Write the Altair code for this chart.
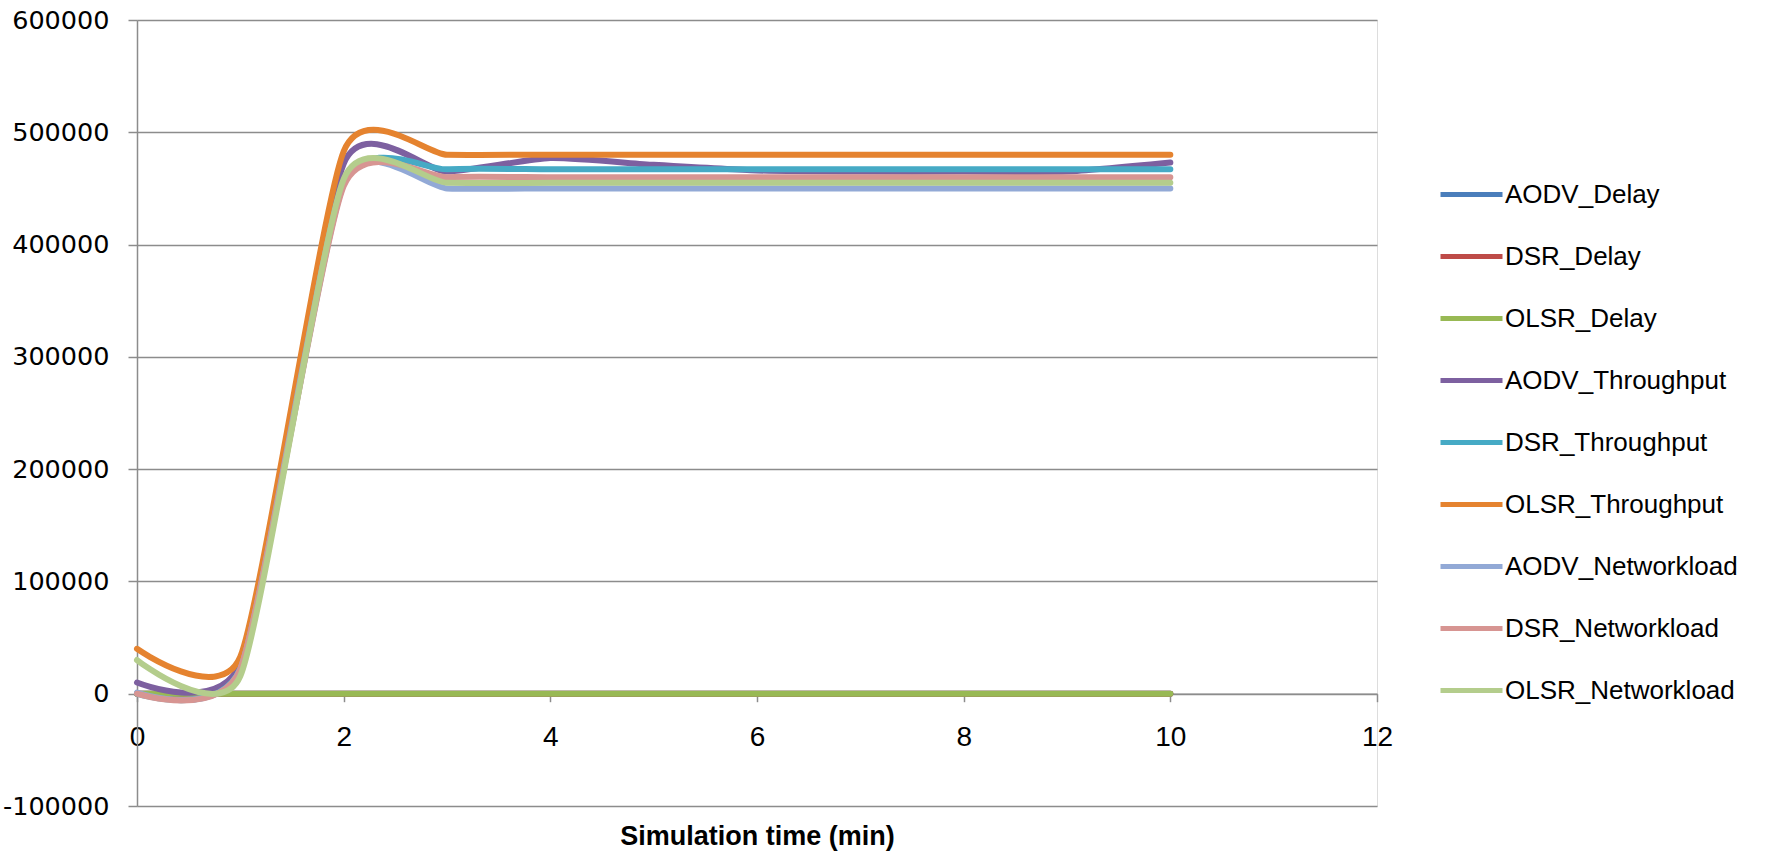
import altair as alt
import pandas as pd

# ---- data ----
times = [0, 1, 2, 3, 4, 5, 6, 7, 8, 9, 10]

series_names = [
    "AODV_Delay", "DSR_Delay", "OLSR_Delay",
    "AODV_Throughput", "DSR_Throughput", "OLSR_Throughput",
    "AODV_Networkload", "DSR_Networkload", "OLSR_Networkload",
]

aodv_delay = [0, 0, 0, 0, 0, 0, 0, 0, 0, 0, 0]
dsr_delay = [0, 0, 0, 0, 0, 0, 0, 0, 0, 0, 0]
olsr_delay = [0, 0, 0, 0, 0, 0, 0, 0, 0, 0, 0]
aodv_throughput = [10000, 27000, 472000, 465000, 477000, 471000, 466000, 465000, 465000, 465000, 473000]
dsr_throughput = [0, 22600, 454000, 467000, 467000, 467000, 467000, 467000, 467000, 467000, 467000]
olsr_throughput = [40000, 33000, 483000, 480000, 480000, 480000, 480000, 480000, 480000, 480000, 480000]
aodv_networkload = [1000, 22100, 456400, 450000, 450000, 450000, 450000, 450000, 450000, 450000, 450000]
dsr_networkload = [0, 22000, 452000, 460000, 460000, 460000, 460000, 460000, 460000, 460000, 460000]
olsr_networkload = [30000, 15800, 458300, 455000, 455000, 455000, 455000, 455000, 455000, 455000, 455000]

all_values = [
    aodv_delay, dsr_delay, olsr_delay,
    aodv_throughput, dsr_throughput, olsr_throughput,
    aodv_networkload, dsr_networkload, olsr_networkload,
]

colors = [
    "#4A7EBB", "#BE4B48", "#98B954",
    "#7D60A0", "#46AAC5", "#E5832F",
    "#92A9D6", "#D79592", "#B4CD8C",
]

x_ticks = [0, 2, 4, 6, 8, 10, 12]
y_ticks = [-100000, 0, 100000, 200000, 300000, 400000, 500000, 600000]

rows = []
for i, (name, vals) in enumerate(zip(series_names, all_values)):
    for t, v in zip(times, vals):
        rows.append({"time": t, "series": name, "value": v, "order": i})
df = pd.DataFrame(rows)

sans = "Liberation Sans, Arial, sans-serif"
grey = "#8C8C8C"

chart = alt.Chart(df).mark_line(
    interpolate="cardinal", tension=0.4, strokeWidth=6, strokeCap="round", strokeJoin="round"
).encode(
    x=alt.X(
        "time:Q",
        scale=alt.Scale(domain=[0, 12], nice=False, zero=False),
        axis=alt.Axis(
            values=x_ticks, offset=-112.3, grid=False, labelFlush=False,
            domainColor=grey, domainWidth=1.5, tickColor=grey, tickWidth=1.5, tickSize=8,
            labelFont=sans, labelFontSize=28, labelColor="#000000", labelPadding=22,
            title="Simulation time (min)", titleFont=sans, titleFontSize=27,
            titleFontWeight="bold", titleColor="#000000", titleY=151, titleBaseline="alphabetic",
        ),
    ),
    y=alt.Y(
        "value:Q",
        scale=alt.Scale(domain=[-100000, 600000], nice=False, zero=False),
        axis=alt.Axis(
            values=y_ticks, grid=True, gridColor=grey, gridWidth=1.5,
            domainColor=grey, domainWidth=1.5, tickColor=grey, tickWidth=1.5, tickSize=9,
            labelFont="DejaVu Sans", labelFontSize=25.5, labelColor="#000000", labelPadding=19,
            labelExpr="'' + datum.value", title=None,
        ),
    ),
    color=alt.Color(
        "series:N",
        sort=series_names,
        scale=alt.Scale(domain=series_names, range=colors),
        legend=alt.Legend(
            title=None, orient="none", legendX=1301, legendY=141,
            symbolType="stroke", symbolSize=3844, symbolStrokeWidth=5,
            labelFont=sans, labelFontSize=26, labelColor="#000000",
            labelOffset=0, labelLimit=400, rowPadding=15, padding=0,
        ),
    ),
    order=alt.Order("order:Q"),
).properties(
    width=1240, height=786,
    padding={"left": 137, "top": 20, "right": 391, "bottom": 45},
    autosize=alt.AutoSizeParams(type="none"),
).configure_view(stroke=None).configure(background="white")

chart.save("out.html", embed_options={"renderer": "svg", "actions": False})
